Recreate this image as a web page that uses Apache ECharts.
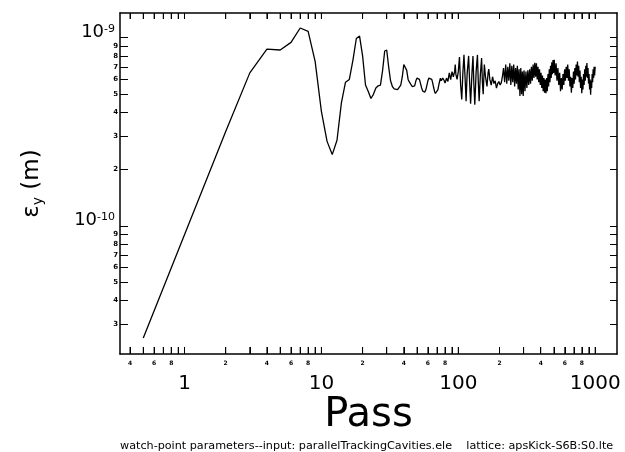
<!DOCTYPE html>
<html>
<head>
<meta charset="utf-8">
<script src="https://cdn.jsdelivr.net/npm/echarts@6/dist/echarts.min.js"></script>
<style>
  html, body { margin: 0; padding: 0; background: #fff; }
  #chart { width: 625px; height: 452px; }
</style>
</head>
<body>
<div id="chart"></div>
<script>
// emittance values are in units of 1e-10 m
const earlyPass = [0.5, 1, 2, 3, 4, 5, 6, 7, 8, 9, 10, 11, 12, 13, 14, 15, 16, 17, 18, 19, 20, 21, 22, 23, 24, 25, 26, 27, 28, 29, 30, 31, 32, 33, 34, 35, 36, 37, 38, 39, 40, 41, 42, 43, 44, 45, 46, 47, 48, 49, 50, 51, 52, 53, 54, 55, 56, 57, 58, 59, 60, 61, 62, 63, 64, 65, 66, 67, 68, 69, 70, 71, 72, 73];
const earlyEps = [0.253, 0.895, 3.17, 6.5, 8.7, 8.6, 9.44, 11.26, 10.8, 7.48, 4.06, 2.81, 2.39, 2.85, 4.5, 5.8, 6.0, 7.6, 9.9, 10.2, 8.0, 5.6, 5.18, 4.75, 5.0, 5.4, 5.55, 5.6, 6.7, 8.5, 8.6, 7.0, 5.9, 5.5, 5.35, 5.25, 5.3, 5.45, 5.6, 6.2, 7.2, 7.3, 6.7, 6.0, 5.8, 5.7, 5.5, 5.4, 5.55, 5.9, 6.1, 6.18, 6.0, 5.7, 5.4, 5.2, 5.14, 5.14, 5.3, 5.6, 5.9, 6.1, 6.18, 6.15, 6.0, 5.75, 5.45, 5.2, 5.05, 4.97, 5.0, 5.3, 5.6, 5.85];

const spikePass = [74, 75, 76, 77, 78, 79, 80, 81, 82, 83, 84, 85, 86, 87, 88, 89, 90, 91, 92, 93, 94, 95, 96, 97, 98, 100, 102, 104, 106, 108, 110, 112, 114, 116, 119, 121, 123, 126, 128, 130, 132, 135, 138, 140, 142, 145, 148, 150, 152, 155, 158, 162, 165, 167, 170, 174, 178, 182, 186, 190, 194, 198, 202, 206, 210];
const spikeEps = [6.1, 5.9, 5.85, 6.1, 6.2, 5.9, 5.74, 5.9, 6.1, 6.0, 5.85, 6.2, 6.5, 6.2, 5.98, 6.3, 6.6, 6.4, 6.2, 6.1, 6.6, 7.2, 6.4, 6.2, 6.0, 6.6, 7.9, 5.6, 4.7, 6.5, 8.1, 6.2, 4.6, 6.4, 8.0, 5.8, 4.45, 6.6, 8.0, 5.6, 4.4, 6.6, 8.1, 5.8, 4.6, 6.4, 7.8, 5.8, 5.0, 7.2, 6.2, 5.5, 6.5, 6.8, 6.0, 5.6, 6.2, 5.7, 5.9, 5.4, 5.7, 5.85, 5.6, 5.75, 6.2];

const bandPass = [214, 218, 222, 226, 230, 234, 238, 242, 246, 250, 254, 258, 262, 266, 270, 274, 278, 282, 286, 290, 294, 298, 302,
  307, 312, 317, 322, 327, 332, 337, 342, 347, 352, 357, 362, 367, 372, 377, 382, 387, 392, 397, 402,
  407, 412, 417, 422, 427, 432, 437, 442, 447, 452, 457, 462, 467, 472, 477, 482, 487, 492, 497, 502,
  510, 518, 526, 534, 542, 550, 558, 566, 574, 582, 590, 598, 606, 614, 622, 630, 638, 646, 654, 662,
  670, 678, 686, 694, 702, 710, 718, 726, 734, 742, 750, 758, 766, 774, 782, 790, 798, 806, 814, 822,
  830, 838, 846, 854, 862, 870, 878, 886, 894, 902, 910, 918, 926, 934, 942, 950, 958, 966, 974, 982, 990, 1000];
const bandEps = [6.9, 5.8, 7.2, 5.7, 7.0, 5.9, 7.3, 5.6, 7.1, 5.8, 7.2, 5.5, 6.9, 5.7, 7.1, 5.3, 6.8, 4.9, 6.9, 5.0, 6.6, 4.9, 6.7,
  5.2, 6.6, 5.4, 6.7, 5.6, 6.8, 5.7, 7.0, 5.9, 7.2, 6.1, 7.35, 6.2, 7.3, 6.0, 7.0, 5.8, 6.8, 5.6, 6.5,
  5.4, 6.3, 5.2, 6.1, 5.1, 6.0, 5.07, 6.1, 5.2, 6.4, 5.5, 6.8, 5.8, 7.1, 6.1, 7.4, 6.4, 7.6, 6.5, 7.64,
  6.3, 7.3, 5.9, 6.9, 5.6, 6.5, 5.2, 6.1, 5.3, 6.4, 5.6, 6.8, 5.9, 7.0, 6.1, 7.2, 5.9, 6.8, 5.5, 6.2,
  5.1, 6.1, 5.4, 6.6, 5.7, 6.9, 6.0, 7.2, 6.3, 7.48, 6.2, 7.1, 5.8, 6.7, 5.4, 6.2, 5.07, 6.0, 5.3, 6.4,
  5.6, 6.8, 5.9, 7.1, 6.2, 7.34, 6.1, 6.9, 5.7, 6.4, 5.3, 6.0, 4.97, 5.9, 5.4, 6.4, 5.8, 6.8, 6.1, 7.0, 6.3, 7.0];

// axis ticks and labels
const xTickVals = [0.4, 0.5, 0.6, 0.7, 0.8, 0.9, 1, 2, 3, 4, 5, 6, 7, 8, 9, 10, 20, 30, 40, 50, 60, 70, 80, 90, 100, 200, 300, 400, 500, 600, 700, 800, 900, 1000];
const xMajorLabels = [1, 10, 100, 1000];
const xMinorLabels = [0.4, 0.6, 0.8, 2, 4, 6, 8, 20, 40, 60, 80, 200, 400, 600, 800];
const yTickVals = [3e-11, 4e-11, 5e-11, 6e-11, 7e-11, 8e-11, 9e-11, 1e-10, 2e-10, 3e-10, 4e-10, 5e-10, 6e-10, 7e-10, 8e-10, 9e-10, 1e-9];
const yMajorLabels = [1e-10, 1e-9];
const yMinorLabels = [3e-11, 4e-11, 5e-11, 6e-11, 7e-11, 8e-11, 9e-11, 2e-10, 3e-10, 4e-10, 5e-10, 6e-10, 7e-10, 8e-10, 9e-10];

const footer = 'watch-point parameters--input: parallelTrackingCavities.ele    lattice: apsKick-S6B:S0.lte';

const X_MIN = 0.338, X_MAX = 1443;
const Y_MIN = 2.08e-11, Y_MAX = 1.353e-9;
// tick lengths on the log y scale (about 7 px at the bottom, 6 px at the top)
const BOTTOM_TICK_FACTOR = 1.09;
const TOP_TICK_FACTOR = 1.076;
const FONT = 'DejaVu Sans';

function isDecade(v) {
    const l = Math.log10(v);
    return Math.abs(l - Math.round(l)) < 1e-6;
}
function leadDigit(v) {
    const e = Math.floor(Math.log10(v) + 1e-9);
    return String(Math.round(v / Math.pow(10, e)));
}

const allPass = earlyPass.concat(spikePass, bandPass);
const allEps = earlyEps.concat(spikeEps, bandEps);
const seriesData = allPass.map((p, i) => [p, allEps[i] * 1e-10]);

// x ticks on the frame, as short broken segments of a helper line series
const xTickData = [];
xTickVals.forEach((v) => {
    xTickData.push([v, Y_MIN], [v, Y_MIN * BOTTOM_TICK_FACTOR], [v, '-']);
    xTickData.push([v, Y_MAX], [v, Y_MAX / TOP_TICK_FACTOR], [v, '-']);
});

const chart = echarts.init(document.getElementById('chart'));

function frameLine() {
    return { show: true, lineStyle: { color: '#000', width: 1.5 } };
}
function ticks(vals, len) {
    return { show: true, inside: true, length: len, customValues: vals, lineStyle: { color: '#000', width: 1 } };
}

chart.setOption({
    animation: false,
    title: {
        text: footer,
        left: 120,
        top: 441,
        padding: 0,
        textStyle: { fontSize: 11.2, fontWeight: 'normal', color: '#000', fontFamily: FONT },
    },
    grid: { left: 120, right: 8, top: 13, bottom: 98 },
    xAxis: [
        {
            type: 'log',
            position: 'bottom',
            min: X_MIN,
            max: X_MAX,
            axisLine: frameLine(),
            splitLine: { show: false },
            axisTick: ticks(xTickVals, 7),
            axisLabel: {
                customValues: xMinorLabels.concat(xMajorLabels),
                formatter: (v) => (isDecade(v) ? '{ma|' + Math.round(v) + '}' : '{mi|' + leadDigit(v) + '}'),
                margin: 6,
                verticalAlign: 'top',
                color: '#000',
                rich: {
                    ma: { fontSize: 20, color: '#000', fontFamily: FONT, padding: [14, 0, 0, 0] },
                    mi: { fontSize: 6, fontWeight: 'bold', color: '#000', fontFamily: FONT },
                },
            },
            name: 'Pass',
            nameLocation: 'middle',
            nameGap: 42,
            nameMoveOverlap: false,
            nameTextStyle: { fontSize: 40, color: '#000', fontFamily: FONT },
        },
        {
            type: 'log',
            position: 'top',
            min: X_MIN,
            max: X_MAX,
            axisLine: frameLine(),
            splitLine: { show: false },
            axisTick: ticks(xTickVals, 6),
            axisLabel: { show: false },
        },
    ],
    yAxis: [
        {
            type: 'log',
            position: 'left',
            min: Y_MIN,
            max: Y_MAX,
            axisLine: frameLine(),
            splitLine: { show: false },
            axisTick: ticks(yTickVals, 8),
            axisLabel: {
                customValues: yMinorLabels.concat(yMajorLabels),
                formatter: (v) => (isDecade(v) ? '{b|10}{s|' + Math.round(Math.log10(v)) + '}' : '{m|' + leadDigit(v) + '}'),
                margin: 2,
                color: '#000',
                rich: {
                    b: { fontSize: 18, color: '#000', fontFamily: FONT, padding: [0, 0, 10, 0] },
                    s: { fontSize: 11, color: '#000', fontFamily: FONT, verticalAlign: 'top', padding: [0, 3, 0, 0] },
                    m: { fontSize: 7, fontWeight: 'bold', color: '#000', fontFamily: FONT },
                },
            },
            name: '{e|ε}{sub|y}{e| (m)}',
            nameLocation: 'middle',
            nameRotate: 90,
            nameGap: 75,
            nameMoveOverlap: false,
            nameTextStyle: {
                color: '#000',
                rich: {
                    e: { fontSize: 23, color: '#000', fontFamily: FONT, lineHeight: 26 },
                    sub: { fontSize: 14, color: '#000', fontFamily: FONT, verticalAlign: 'bottom', lineHeight: 10 },
                },
            },
        },
        {
            type: 'log',
            position: 'right',
            min: Y_MIN,
            max: Y_MAX,
            axisLine: frameLine(),
            splitLine: { show: false },
            axisTick: ticks(yTickVals, 7),
            axisLabel: { show: false },
        },
    ],
    series: [
        {
            type: 'line',
            xAxisIndex: 0,
            yAxisIndex: 0,
            data: seriesData,
            showSymbol: false,
            symbol: 'none',
            lineStyle: { color: '#000', width: 1.3 },
            clip: true,
        },
        {
            type: 'line',
            xAxisIndex: 0,
            yAxisIndex: 0,
            data: xTickData,
            showSymbol: false,
            symbol: 'none',
            connectNulls: false,
            silent: true,
            lineStyle: { color: '#000', width: 1 },
            clip: false,
        },
    ],
});
</script>
</body>
</html>
